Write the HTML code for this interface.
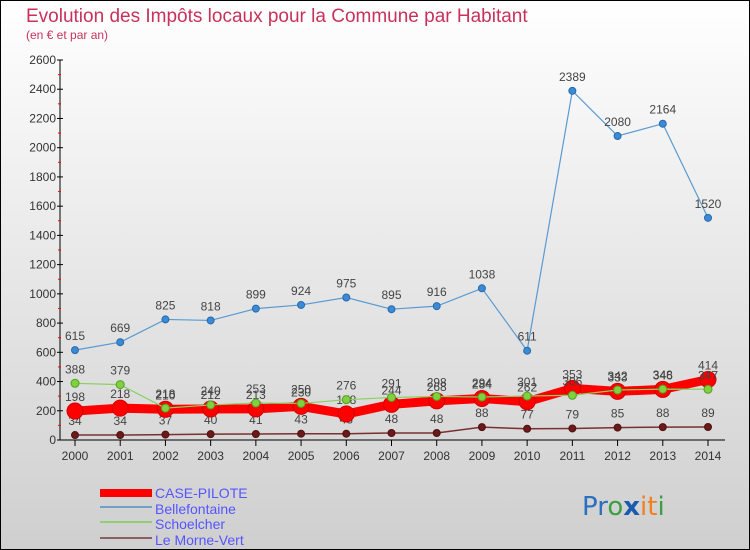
<!DOCTYPE html>
<html><head><meta charset="utf-8"><style>
body{margin:0;width:750px;height:550px;overflow:hidden;font-family:"Liberation Sans",sans-serif}
svg{display:block}
</style></head><body>
<svg width="750" height="550">
<defs><linearGradient id="bg" x1="0" y1="0" x2="0" y2="1"><stop offset="0" stop-color="#ffffff"/><stop offset="1" stop-color="#cfcfcf"/></linearGradient></defs>
<rect x="0.5" y="0.5" width="749" height="549" fill="url(#bg)" stroke="#000"/>
<text x="26" y="22" font-size="19" fill="#c8325a">Evolution des Impôts locaux pour la Commune par Habitant</text>
<text x="26" y="39" font-size="12" fill="#c8325a">(en € et par an)</text>
<g id="axes"></g><g id="series"></g>
<g>
<rect x="100" y="489" width="52" height="8" fill="#ff0000"/>
<text x="155" y="498" font-size="14" fill="#5555ff">CASE-PILOTE</text>
<line x1="100" y1="507" x2="152" y2="507" stroke="#6fa0c8" stroke-width="2"/>
<text x="155" y="514" font-size="14" fill="#5555ff">Bellefontaine</text>
<line x1="100" y1="522" x2="152" y2="522" stroke="#90d070" stroke-width="2"/>
<text x="155" y="529" font-size="14" fill="#5555ff">Schoelcher</text>
<line x1="100" y1="538" x2="152" y2="538" stroke="#8a6060" stroke-width="2"/>
<text x="155" y="545" font-size="14" fill="#5555ff">Le Morne-Vert</text>
</g>
<text x="582" y="515" font-size="26" font-family="DejaVu Sans"><tspan fill="#2a6fc0">Pr</tspan><tspan fill="#3aa040">o</tspan><tspan fill="#1a5ab0" font-weight="bold">x</tspan><tspan fill="#f08020">it</tspan><tspan fill="#3aa040">i</tspan></text>
</svg>
<script>
const years=[2000,2001,2002,2003,2004,2005,2006,2007,2008,2009,2010,2011,2012,2013,2014];
const yTicks=[0,200,400,600,800,1000,1200,1400,1600,1800,2000,2200,2400,2600];
const casePilote=[198,218,210,212,213,230,178,244,268,284,262,353,333,346,414];
const bellefontaine=[615,669,825,818,899,924,975,895,916,1038,611,2389,2080,2164,1520];
const schoelcher=[388,379,218,240,253,250,276,291,298,294,301,306,342,348,347];
const morneVert=[34,34,37,40,41,43,43,48,48,88,77,79,85,88,89];
const NS="http://www.w3.org/2000/svg";
const X=i=>75+i*(708-75)/14, Y=v=>440-v*(380/2600);
function mk(t,a,p){const e=document.createElementNS(NS,t);for(const k in a)e.setAttribute(k,a[k]);p.appendChild(e);return e;}
const ax=document.getElementById('axes');
const yl=mk('line',{x1:60,y1:60,x2:60,y2:440,stroke:'#000'},ax);


const xl=mk('line',{x1:60,y1:440,x2:725,y2:440,stroke:'#000'},ax);


yTicks.forEach((v,i)=>{mk('line',{x1:57,y1:Y(v),x2:63,y2:Y(v),stroke:'#000'},ax);
 if(i>0)mk('line',{x1:58,y1:Y(v-100),x2:61,y2:Y(v-100),stroke:'#f00'},ax);
 const t=mk('text',{x:56,y:Y(v)+4,'font-size':12,'text-anchor':'end',fill:'#333'},ax);t.textContent=v;
 
 });
years.forEach((y,i)=>{mk('line',{x1:X(i),y1:440,x2:X(i),y2:446,stroke:'#000'},ax);
 const t=mk('text',{x:X(i),y:460,'font-size':12,'text-anchor':'middle',fill:'#333'},ax);t.textContent=y;
 
 });
const sg=document.getElementById('series');
function series(name,data,color,w,r,dot,dotStroke){
 const g=mk('g',{},sg);
 
 
 mk('polyline',{points:data.map((v,i)=>X(i)+','+Y(v)).join(' '),fill:'none',stroke:color,'stroke-width':w},g);
 data.forEach((v,i)=>{const c=mk('circle',{cx:X(i),cy:Y(v),r:r,fill:dot,stroke:dotStroke,'stroke-width':1},g);
  
  
  const t=mk('text',{x:X(i),y:Y(v)-10,'font-size':12,'text-anchor':'middle',fill:'#444'},g);t.textContent=v;
  
  });
}
series('bellefontaine-series',bellefontaine,'#5a9ad0',1.2,3.5,'#3a8ad8','#2a6aa8');
series('le-morne-vert-series',morneVert,'#7a3030',1.5,3.5,'#6a1a1a','#501010');
series('case-pilote-series',casePilote,'#ff0000',9,8,'#ff0000','#d00000');
series('schoelcher-series',schoelcher,'#8ad060',1.2,4,'#80d040','#50a020');
</script>
</body></html>
